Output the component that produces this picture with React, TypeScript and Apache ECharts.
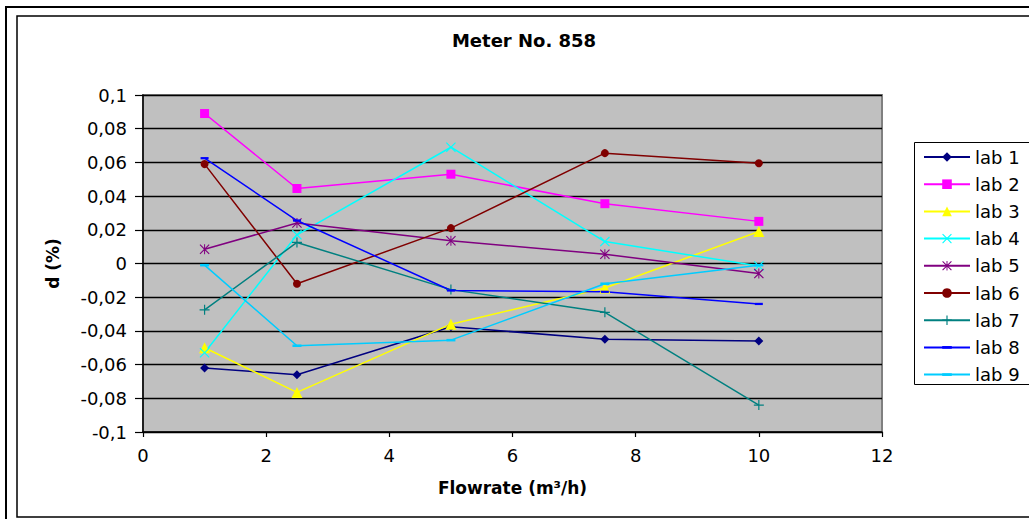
import React, { useEffect, useRef } from 'react';
import * as echarts from 'echarts';

// Flowrate test points (m³/h)
const flowrates = [1, 2.5, 5, 7.5, 10];

const labNames = ['lab 1', 'lab 2', 'lab 3', 'lab 4', 'lab 5', 'lab 6', 'lab 7', 'lab 8', 'lab 9'];

// Deviation d (%) per lab at each flowrate
const lab1 = [-0.062, -0.066, -0.0375, -0.045, -0.046];
const lab2 = [0.089, 0.0445, 0.053, 0.0355, 0.025];
const lab3 = [-0.05, -0.0765, -0.036, -0.0145, 0.019];
const lab4 = [-0.053, 0.017, 0.069, 0.013, -0.0015];
const lab5 = [0.0085, 0.024, 0.0135, 0.0055, -0.006];
const lab6 = [0.059, -0.012, 0.021, 0.0655, 0.0595];
const lab7 = [-0.0275, 0.0125, -0.0155, -0.029, -0.084];
const lab8 = [0.0625, 0.0255, -0.016, -0.0168, -0.024];
const lab9 = [-0.001, -0.0488, -0.0455, -0.012, -0.001];

const labValues = [lab1, lab2, lab3, lab4, lab5, lab6, lab7, lab8, lab9];

// Marker styles
const PLUS = 'path://M44 0L56 0L56 44L100 44L100 56L56 56L56 100L44 100L44 56L0 56L0 44L44 44Z';
const CROSS = 'path://M0 8L8 0L50 42L92 0L100 8L58 50L100 92L92 100L50 58L8 100L0 92L42 50Z';
const STAR = 'path://M0 8L8 0L50 42L92 0L100 8L58 50L100 92L92 100L50 58L8 100L0 92L42 50Z M45 0L55 0L55 100L45 100Z';
// short horizontal dash centred in a square box (the lone moves keep the box square)
const DASH = 'path://M0 0 M0 36L100 36L100 64L0 64Z M100 100';

const labColors = ['#000080', '#FF00FF', '#FFFF00', '#00FFFF', '#800080', '#800000', '#008080', '#0000FF', '#00CCFF'];
const labSymbols = ['diamond', 'rect', 'triangle', CROSS, STAR, 'circle', PLUS, DASH, DASH];
const labSymbolSizes = [9, 9, 11, 10, 10, 8, 10, 8, 9];

const FONT = '"DejaVu Sans", Arial, sans-serif';

export default function App() {
  const ref = useRef<HTMLDivElement>(null);

  useEffect(() => {
    if (!ref.current) return;
    const chart = echarts.init(ref.current, null, { renderer: 'svg' });

    const series = labValues.map((vals, i) => ({
      name: labNames[i],
      type: 'line',
      data: flowrates.map((x, j) => [x, vals[j]]),
      symbol: labSymbols[i],
      symbolSize: labSymbolSizes[i],
      showAllSymbol: true,
      lineStyle: { color: labColors[i], width: 1.5 },
      itemStyle: { color: labColors[i] },
      emphasis: { disabled: true },
    }));

    chart.setOption({
      animation: false,
      backgroundColor: '#ffffff',
      textStyle: { fontFamily: FONT },
      grid: {
        left: 143,
        top: 95,
        width: 739,
        height: 337,
        show: true,
        backgroundColor: '#C0C0C0',
        borderColor: '#808080',
        borderWidth: 2,
      },
      xAxis: {
        type: 'value',
        min: 0,
        max: 12,
        interval: 2,
        name: 'Flowrate (m³/h)',
        nameLocation: 'middle',
        nameGap: 47,
        nameTextStyle: { fontFamily: FONT, fontSize: 17, fontWeight: 'bold', color: '#000' },
        axisLine: { show: true, onZero: false, lineStyle: { color: '#000', width: 1.5 } },
        axisTick: { show: true, length: 5, lineStyle: { color: '#000', width: 1.2 } },
        axisLabel: { fontFamily: FONT, fontSize: 18, color: '#000', margin: 14 },
        splitLine: { show: false },
      },
      yAxis: {
        type: 'value',
        min: -0.1,
        max: 0.1,
        interval: 0.02,
        name: 'd (%)',
        nameLocation: 'middle',
        nameGap: 82,
        nameTextStyle: { fontFamily: FONT, fontSize: 17, fontWeight: 'bold', color: '#000' },
        axisLine: { show: true, onZero: false, lineStyle: { color: '#000', width: 1.5 } },
        axisTick: { show: true, length: 8, lineStyle: { color: '#000', width: 1.2 } },
        axisLabel: {
          fontFamily: FONT,
          fontSize: 18,
          color: '#000',
          margin: 16,
          formatter: (v: number) => String(Number(v.toFixed(2))).replace('.', ','),
        },
        splitLine: { show: true, lineStyle: { color: '#000', width: 1.3 } },
      },
      legend: {
        orient: 'vertical',
        left: 923,
        top: 148,
        padding: 0,
        itemWidth: 46,
        itemHeight: 12,
        itemGap: 9.2,
        selectedMode: false,
        data: labNames,
        textStyle: { fontFamily: FONT, fontSize: 18, color: '#000' },
      },
      graphic: [
        {
          type: 'rect',
          silent: true,
          z: -10,
          shape: { x: 6, y: 7, width: 1100, height: 600 },
          style: { fill: 'none', stroke: '#000', lineWidth: 2 },
        },
        {
          type: 'rect',
          silent: true,
          z: -10,
          shape: { x: 17, y: 16, width: 1100, height: 501 },
          style: { fill: 'none', stroke: '#000', lineWidth: 1.5 },
        },
        {
          type: 'rect',
          silent: true,
          z: -5,
          shape: { x: 914.5, y: 142.5, width: 200, height: 242 },
          style: { fill: '#fff', stroke: '#000', lineWidth: 1 },
        },
        {
          type: 'text',
          silent: true,
          x: 524,
          y: 40,
          style: {
            text: 'Meter No. 858',
            textAlign: 'center',
            textVerticalAlign: 'middle',
            font: 'bold 18px "DejaVu Sans", Arial, sans-serif',
            fill: '#000',
          },
        },
      ],
      series,
    });

    return () => chart.dispose();
  }, []);

  return (
    <div
      ref={ref}
      style={{ position: 'fixed', left: 0, top: 0, width: 1029, height: 519 }}
    />
  );
}
